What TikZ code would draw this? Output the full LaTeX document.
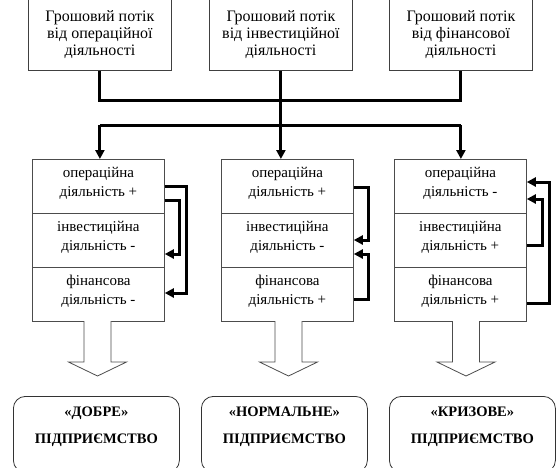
\documentclass[tikz,border=0pt]{standalone}
\usepackage{fontspec}
\setmainfont{Liberation Serif}
\usetikzlibrary{arrows.meta}
\begin{document}
\begin{tikzpicture}[x=1pt,y=-1pt,
  topbox/.style={draw=black!75,line width=0.8pt,minimum width=143pt,minimum height=71pt,
    inner sep=0pt,align=center,anchor=north west,font=\fontsize{16}{17}\selectfont},
  secbox/.style={draw=black!70,line width=0.8pt,minimum width=132pt,minimum height=54pt,
    inner sep=0pt,anchor=north west},
  sectext/.style={align=center,inner sep=0pt,font=\fontsize{15}{19}\selectfont},
  endbox/.style={draw=black!80,line width=0.8pt,rounded corners=12pt,minimum width=166pt,
    minimum height=76pt,inner sep=0pt,anchor=north west},
  endtext/.style={align=center,inner sep=0pt,font=\fontsize{14.5}{27}\selectfont\bfseries},
  conn/.style={line width=3pt,black},
  fb/.style={line width=3pt,black,-{Triangle[length=9pt,width=9pt]}},
  hollow/.style={draw=black!70,line width=0.8pt,fill=white}
]
\useasboundingbox (0,0) rectangle (556,467);
\clip (0,0) rectangle (556,467);

% top boxes
\node[topbox] (t1) at (28,-1) {Грошовий потік\\від операційної\\діяльності};
\node[topbox] (t2) at (209,-1) {Грошовий потік\\від інвестиційної\\діяльності};
\node[topbox] (t3) at (389,-1) {Грошовий потік\\від фінансової\\діяльності};

% middle boxes
\foreach \n/\x in {1/32,2/221,3/394}{
  \node[secbox] (m\n a) at (\x,159) {};
  \node[secbox] (m\n b) at (\x,213) {};
  \node[secbox] (m\n c) at (\x,267) {};
}
\node[sectext] at ([yshift=3.5pt]m1a.center) {операційна\\діяльність +};
\node[sectext] at ([yshift=3.5pt]m1b.center) {інвестиційна\\діяльність -};
\node[sectext] at ([yshift=3.5pt]m1c.center) {фінансова\\діяльність -};
\node[sectext] at ([yshift=3.5pt]m2a.center) {операційна\\діяльність +};
\node[sectext] at ([yshift=3.5pt]m2b.center) {інвестиційна\\діяльність -};
\node[sectext] at ([yshift=3.5pt]m2c.center) {фінансова\\діяльність +};
\node[sectext] at ([yshift=3.5pt]m3a.center) {операційна\\діяльність -};
\node[sectext] at ([yshift=3.5pt]m3b.center) {інвестиційна\\діяльність +};
\node[sectext] at ([yshift=3.5pt]m3c.center) {фінансова\\діяльність +};

% top connectors
\coordinate (h1) at (0,100);
\coordinate (h2) at (0,125);
\draw[conn] (t1.south) |- (t3.south |- h1) -- (t3.south);
\draw[conn] (t2.south) -- (t2.south |- h2);
\draw[conn] (t1.south |- h2) -- (t3.south |- h2);
\foreach \i in {1,2,3}{
  \draw[fb] (t\i.south |- h2) -- (t\i.south |- m\i a.north);
}

% feedback arrows
\draw[fb] (m1a.east |- 0,186) -- (186,186) -- (186,293) -- (m1c.east |- 0,293);
\draw[fb] (m1a.east |- 0,200) -- (179,200) -- (179,254) -- (m1b.east |- 0,254);
\draw[fb] (m2a.east |- 0,187) -- (368,187) -- (368,240) -- (m2b.east |- 0,240);
\draw[fb] (m2c.east |- 0,299) -- (368,299) -- (368,254) -- (m2b.east |- 0,254);
\draw[fb] (m3c.east |- 0,303) -- (549,303) -- (549,182) -- (m3a.east |- 0,182);
\draw[fb] (m3b.east |- 0,245) -- (542,245) -- (542,199) -- (m3a.east |- 0,199);

% hollow arrows
\foreach \c in {97.5,288.5,466}{
  \draw[hollow] (\c-13.5,321) -- (\c-13.5,362) -- (\c-29,362) -- (\c,376) -- (\c+29,362)
    -- (\c+13.5,362) -- (\c+13.5,321);
}

% bottom boxes
\node[endbox] (e1) at (13,396) {};
\node[endbox] (e2) at (201,396) {};
\node[endbox] (e3) at (389,396) {};
\node[endtext] at ([yshift=7.5pt]e1.center) {«ДОБРЕ»\\ПІДПРИЄМСТВО};
\node[endtext] at ([yshift=7.5pt]e2.center) {«НОРМАЛЬНЕ»\\ПІДПРИЄМСТВО};
\node[endtext] at ([yshift=7.5pt]e3.center) {«КРИЗОВЕ»\\ПІДПРИЄМСТВО};
\end{tikzpicture}
\end{document}
